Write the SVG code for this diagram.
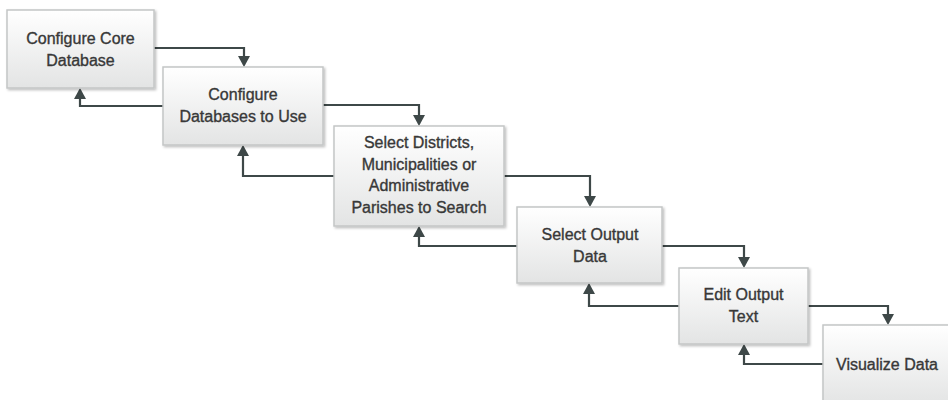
<svg xmlns="http://www.w3.org/2000/svg" width="948" height="400" viewBox="0 0 948 400">
<defs>
<linearGradient id="g" x1="0" y1="0" x2="0" y2="1">
<stop offset="0" stop-color="#ffffff"/>
<stop offset="1" stop-color="#e3e4e4"/>
</linearGradient>
<filter id="sh" x="-10%" y="-10%" width="130%" height="130%">
<feDropShadow dx="1.5" dy="1.5" stdDeviation="1.2" flood-color="#000" flood-opacity="0.25"/>
</filter>
<marker id="ah" markerUnits="userSpaceOnUse" markerWidth="11" markerHeight="12" viewBox="0 0 11 12" refX="9" refY="6" orient="auto">
<path d="M0,0 L11,6 L0,12 Z" fill="#3e4848"/>
</marker>
</defs>
<style>
.box{fill:url(#g);stroke:#c4c6c6;stroke-width:1.5;filter:url(#sh)}
.t{font-family:"Liberation Sans",Arial,sans-serif;font-size:16px;fill:#383838;stroke:#383838;stroke-width:0.35;text-anchor:middle}
.c{fill:none;stroke:#3e4848;stroke-width:2.2;marker-end:url(#ah)}
</style>
<g id="connectors">
<path class="c" d="M154,48 H244 V65"/>
<path class="c" d="M163,106 H80 V90"/>
<path class="c" d="M323,105 H419 V124"/>
<path class="c" d="M334,176 H243 V147"/>
<path class="c" d="M504,176 H590 V205"/>
<path class="c" d="M517,246 H419 V228"/>
<path class="c" d="M662,246 H744 V266"/>
<path class="c" d="M679,306 H589 V285"/>
<path class="c" d="M808,306 H888 V323"/>
<path class="c" d="M823,364 H744 V346"/>
</g>
<g id="n1">
<rect class="box" x="7" y="10" width="147" height="78"/>
<text class="t" x="80.5" y="44">Configure Core</text>
<text class="t" x="80.5" y="66">Database</text>
</g>
<g id="n2">
<rect class="box" x="163" y="67" width="160" height="78"/>
<text class="t" x="243" y="100">Configure</text>
<text class="t" x="243" y="122">Databases to Use</text>
</g>
<g id="n3">
<rect class="box" x="334" y="126" width="170" height="100"/>
<text class="t" x="419" y="148">Select Districts,</text>
<text class="t" x="419" y="169.5">Municipalities or</text>
<text class="t" x="419" y="191">Administrative</text>
<text class="t" x="419" y="212.5">Parishes to Search</text>
</g>
<g id="n4">
<rect class="box" x="517" y="207" width="145" height="76"/>
<text class="t" x="590" y="240">Select Output</text>
<text class="t" x="590" y="262">Data</text>
</g>
<g id="n5">
<rect class="box" x="679" y="268" width="129" height="76"/>
<text class="t" x="743.5" y="300">Edit Output</text>
<text class="t" x="743.5" y="322">Text</text>
</g>
<g id="n6">
<rect class="box" x="823" y="325" width="128" height="80"/>
<text class="t" x="887" y="370">Visualize Data</text>
</g>
</svg>
